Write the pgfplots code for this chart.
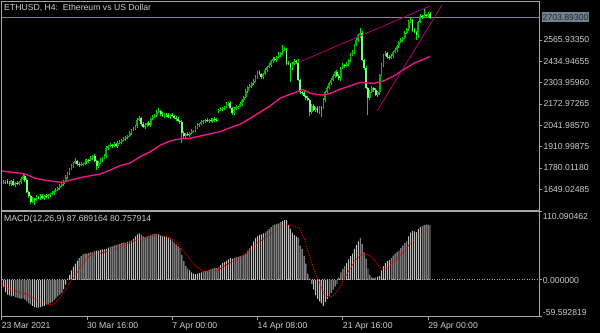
\documentclass[border=0pt]{standalone}
\usepackage{pgfplots}
\pgfplotsset{compat=1.18}
\usepackage{pgfplotstable}
\usepackage{fontspec}
\setmainfont{Liberation Sans}
\definecolor{framec}{RGB}{165,165,165}
\definecolor{txt}{RGB}{205,205,205}
\definecolor{wickc}{RGB}{0,225,0}
\definecolor{bullc}{RGB}{0,180,0}
\definecolor{bearc}{RGB}{120,255,120}
\definecolor{mac}{RGB}{235,20,140}
\definecolor{trendc}{RGB}{185,0,115}
\definecolor{bidc}{RGB}{125,135,145}
\definecolor{bidbox}{RGB}{112,128,144}
\definecolor{histc}{RGB}{192,192,192}
\definecolor{sigc}{RGB}{230,0,0}
\newcommand\lbl{\fontsize{8.7}{10}\selectfont}

\pgfplotstableread{
n o h l c
1 1690 1706 1682 1694
2 1694 1706 1681 1700
3 1700 1715 1683 1688
4 1688 1697 1672 1682
5 1682 1704 1667 1700
6 1700 1711 1669 1675
7 1675 1695 1663 1688
8 1688 1702 1678 1682
9 1682 1699 1673 1694
10 1694 1722 1683 1712
11 1712 1740 1704 1731
12 1731 1737 1693 1706
13 1706 1721 1627 1632
14 1632 1641 1598 1608
15 1608 1612 1556 1571
16 1571 1600 1565 1589
17 1589 1596 1550 1583
18 1583 1616 1579 1602
19 1602 1607 1587 1596
20 1596 1618 1585 1608
21 1608 1620 1588 1596
22 1596 1614 1583 1608
23 1608 1623 1597 1602
24 1602 1623 1592 1614
25 1614 1624 1599 1620
26 1620 1637 1614 1626
27 1626 1646 1614 1639
28 1639 1659 1635 1645
29 1645 1662 1636 1657
30 1657 1679 1646 1669
31 1669 1694 1661 1682
32 1682 1706 1669 1700
33 1700 1739 1695 1724
34 1724 1758 1714 1749
35 1749 1778 1734 1774
36 1774 1803 1768 1792
37 1792 1817 1780 1810
38 1810 1841 1806 1823
39 1823 1828 1795 1804
40 1804 1814 1787 1798
41 1798 1816 1790 1804
42 1804 1812 1791 1806
43 1806 1832 1801 1817
44 1817 1838 1807 1829
45 1829 1833 1811 1826
46 1826 1852 1820 1841
47 1841 1860 1829 1853
48 1853 1867 1819 1823
49 1823 1828 1770 1792
50 1792 1820 1781 1810
51 1810 1841 1802 1829
52 1829 1847 1816 1841
53 1841 1868 1836 1853
54 1853 1912 1843 1903
55 1903 1919 1888 1915
56 1915 1932 1909 1921
57 1921 1928 1903 1915
58 1915 1941 1911 1927
59 1927 1932 1906 1915
60 1915 1943 1904 1933
61 1933 1951 1925 1939
62 1939 1958 1926 1952
63 1952 1973 1947 1958
64 1958 1979 1948 1970
65 1970 1980 1955 1976
66 1976 2006 1970 1995
67 1995 2020 1983 2013
68 2013 2033 2009 2019
69 2019 2043 2010 2038
70 2038 2084 2027 2074
71 2074 2099 2066 2087
72 2087 2093 2037 2050
73 2050 2065 2026 2031
74 2031 2053 2021 2044
75 2044 2060 2029 2056
76 2056 2067 2038 2044
77 2044 2088 2032 2081
78 2081 2107 2077 2093
79 2093 2110 2084 2105
80 2105 2134 2094 2124
81 2124 2148 2116 2130
82 2130 2136 2098 2111
83 2111 2126 2094 2099
84 2099 2120 2089 2111
85 2111 2115 2090 2105
86 2105 2116 2087 2093
87 2093 2112 2081 2105
88 2105 2119 2095 2099
89 2099 2104 2078 2087
90 2087 2097 2070 2081
91 2081 2093 2060 2068
92 2068 2074 2049 2062
93 2062 2077 1935 1995
94 1995 2004 1966 1976
95 1976 1992 1961 1988
96 1988 1999 1976 1982
97 1982 2002 1970 1995
98 1995 2021 1991 2007
99 2007 2015 1998 2010
100 2010 2035 1999 2025
101 2025 2056 2017 2044
102 2044 2056 2031 2050
103 2050 2077 2045 2062
104 2062 2077 2052 2068
105 2068 2078 2053 2074
106 2074 2085 2062 2068
107 2068 2081 2056 2074
108 2074 2088 2064 2068
109 2068 2086 2059 2081
110 2081 2091 2063 2074
111 2074 2086 2060 2068
112 2130 2142 2117 2136
113 2136 2154 2131 2139
114 2139 2157 2129 2148
115 2148 2158 2133 2154
116 2154 2184 2148 2173
117 2173 2186 2161 2179
118 2179 2193 2144 2148
119 2148 2153 2108 2117
120 2117 2152 2106 2142
121 2142 2166 2134 2154
122 2154 2163 2141 2157
123 2157 2188 2152 2173
124 2173 2206 2163 2197
125 2197 2220 2182 2216
126 2216 2264 2210 2253
127 2253 2284 2241 2277
128 2277 2297 2273 2283
129 2283 2307 2274 2302
130 2302 2324 2291 2314
131 2314 2351 2306 2339
132 2339 2375 2326 2369
133 2369 2384 2352 2357
134 2357 2366 2329 2339
135 2339 2361 2324 2357
136 2357 2393 2351 2382
137 2382 2407 2370 2400
138 2400 2426 2396 2412
139 2412 2442 2403 2437
140 2437 2459 2426 2449
141 2449 2461 2435 2443
142 2443 2467 2430 2461
143 2461 2489 2456 2474
144 2474 2495 2464 2486
145 2486 2535 2471 2504
146 2504 2521 2498 2510
147 2510 2517 2412 2424
148 2424 2438 2414 2418
149 2418 2423 2310 2394
150 2394 2428 2383 2418
151 2418 2449 2410 2437
152 2437 2443 2418 2431
153 2431 2446 2315 2320
154 2320 2329 2236 2246
155 2246 2250 2225 2240
156 2240 2251 2216 2222
157 2222 2229 2198 2210
158 2210 2224 2193 2197
159 2197 2202 2100 2124
160 2124 2170 2113 2160
161 2160 2172 2128 2136
162 2136 2154 2123 2148
163 2148 2163 2119 2124
164 2124 2163 2114 2154
165 2154 2158 2090 2148
166 2148 2208 2142 2197
167 2197 2253 2185 2246
168 2246 2285 2242 2271
169 2271 2307 2262 2302
170 2302 2330 2291 2320
171 2320 2357 2312 2345
172 2345 2375 2332 2369
173 2369 2384 2340 2345
174 2345 2354 2322 2332
175 2332 2398 2317 2394
176 2394 2423 2388 2412
177 2412 2419 2394 2406
178 2406 2432 2402 2418
179 2418 2448 2409 2443
180 2443 2484 2432 2474
181 2474 2504 2466 2492
182 2492 2541 2479 2535
183 2535 2581 2530 2566
184 2566 2605 2556 2596
185 2596 2639 2581 2609
186 2609 2620 2437 2443
187 2443 2450 2382 2394
188 2394 2408 2267 2271
189 2271 2276 2105 2210
190 2210 2256 2199 2246
191 2246 2283 2238 2271
192 2271 2277 2246 2259
193 2259 2274 2223 2228
194 2228 2255 2218 2246
195 2246 2355 2231 2351
196 2351 2423 2345 2412
197 2412 2481 2400 2474
198 2474 2500 2470 2486
199 2486 2491 2452 2461
200 2461 2471 2444 2455
201 2455 2480 2447 2468
202 2468 2498 2455 2492
203 2492 2519 2487 2504
204 2504 2538 2494 2529
205 2529 2557 2514 2553
206 2553 2577 2547 2566
207 2566 2585 2554 2578
208 2578 2623 2574 2609
209 2609 2638 2600 2633
210 2633 2686 2622 2676
211 2676 2700 2668 2688
212 2688 2694 2614 2627
213 2627 2642 2610 2615
214 2615 2624 2566 2596
215 2596 2680 2581 2676
216 2676 2724 2670 2713
217 2713 2720 2695 2707
218 2707 2756 2703 2719
219 2719 2724 2704 2713
220 2713 2735 2702 2725
221 2725 2737 2696 2703.893
}\pricedata

\pgfplotstableread{
n m
1 -12
2 -20
3 -24
4 -25
5 -27
6 -26
7 -28
8 -29
9 -30
10 -31
11 -30
12 -32
13 -35
14 -38
15 -40
16 -42
17 -44
18 -45
19 -45
20 -44
21 -43
22 -42
23 -40
24 -39
25 -38
26 -36
27 -33
28 -30
29 -27
30 -24
31 -21
32 -15
33 -8
34 2
35 8
36 15
37 21
38 26
39 31
40 35
41 38
42 41
43 42
44 42
45 43
46 44
47 44
48 46
49 47
50 47
51 48
52 49
53 49
54 50
55 52
56 53
57 54
58 55
59 56
60 57
61 58
62 59
63 60
64 60
65 61
66 62
67 63
68 66
69 70
70 73
71 75
72 72
73 70
74 69
75 70
76 71
77 72
78 73
79 74
80 74
81 73
82 71
83 70
84 70
85 69
86 67
87 65
88 63
89 60
90 57
91 54
92 51
93 40
94 30
95 22
96 18
97 15
98 12
99 10
100 9
101 10
102 11
103 12
104 13
105 14
106 14
107 16
108 17
109 18
110 19
111 19
112 20
113 24
114 27
115 29
116 31
117 33
118 35
119 34
120 35
121 36
122 37
123 38
124 39
125 40
126 42
127 47
128 51
129 55
130 62
131 67
132 70
133 72
134 73
135 75
136 76
137 79
138 82
139 85
140 88
141 89
142 90
143 91
144 93
145 95
146 96
147 96
148 88
149 82
150 76
151 72
152 70
153 68
154 55
155 50
156 38
157 26
158 10
159 2
160 -7
161 -16
162 -25
163 -31
164 -35
165 -38
166 -42
167 -36
168 -31
169 -27
170 -21
171 -16
172 -11
173 -7
174 3
175 12
176 17
177 22
178 27
179 33
180 38
181 42
182 50
183 56
184 62
185 67
186 58
187 44
188 34
189 18
190 8
191 4
192 3
193 4
194 5
195 6
196 15
197 22
198 27
199 30
200 32
201 35
202 39
203 42
204 45
205 47
206 51
207 55
208 59
209 62
210 70
211 76
212 79
213 78
214 77
215 82
216 85
217 87
218 88
219 89
220 89
221 87.689164
}\macddata

\begin{document}
\begin{tikzpicture}
\fill[black] (0bp,0bp) rectangle (600bp,333bp);
\useasboundingbox (0bp,0bp) rectangle (600bp,333bp);

% ---------------- price panel ----------------
\begin{axis}[
  at={(1.7bp,123bp)}, anchor=south west, scale only axis,
  width=537.6bp, height=208.5bp,
  xmin=0, xmax=277.4, ymin=1521.8, ymax=2802.2,
  axis line style={draw=framec, line width=0.9bp},
  xtick=\empty,
  ytick={1649.02485,1780.0118,1910.99875,2041.9857,2172.97265,2303.9596,2434.94655,2565.9335},
  yticklabels={1649.02485,1780.01180,1910.99875,2041.98570,2172.97265,2303.95960,2434.94655,2565.93350},
  ytick pos=right, yticklabel pos=right, tick align=outside,
  major tick length=3bp, tick style={draw=framec, line width=0.8bp},
  yticklabel style={font=\lbl, text=txt, anchor=west, inner sep=0pt, xshift=1bp},
]
% bid line
\addplot[bidc, line width=0.8bp, mark=none] coordinates {(0,2703.893) (277.4,2703.893)};
% wicks: segment from low to high
\addplot[draw=wickc, line width=1bp, mark=none,
  quiver={u=0, v={\thisrow{h}-\thisrow{l}}, every arrow/.append style={-}}]
  table[x=n, y=l] {\pricedata};
% bull bodies
\addplot[draw=bullc, line width=1.8bp, mark=none,
  quiver={u=0, v={max(\thisrow{c}-\thisrow{o},0)}, every arrow/.append style={-}}]
  table[x=n, y=o] {\pricedata};
% bear bodies
\addplot[draw=bearc, line width=1.8bp, mark=none,
  quiver={u=0, v={max(\thisrow{o}-\thisrow{c},0)}, every arrow/.append style={-}}]
  table[x=n, y=c] {\pricedata};
% moving average
\addplot[mac, line width=1.4bp, line join=round, mark=none] coordinates {
(0,1761) (10,1747) (12.4,1741) (16.5,1720) (20,1710) (25,1700) (30.4,1692) (33,1696)
(37,1710) (42,1724) (51,1743) (56,1767) (61,1794) (66,1809) (71.5,1849) (76.7,1880)
(82,1921) (87,1946) (92,1958) (97,1962) (102.4,1976) (107.6,1990) (112.7,2003)
(117.9,2027) (123,2048) (128.2,2085) (133.3,2122) (138.4,2160) (143.6,2208)
(148.7,2232) (153.9,2254) (155.4,2262) (159,2240) (162.6,2231) (165.7,2228)
(169.3,2237) (174.5,2263) (179.6,2283) (184.8,2305) (188.4,2302) (192.5,2300)
(197.6,2317) (202.8,2348) (207.9,2388) (213.1,2425) (218.2,2449) (221,2464)};
% trend lines
\addplot[trendc, line width=0.8bp, mark=none] coordinates {(152.4,2424.5) (221,2774.5)};
\addplot[trendc, line width=0.8bp, mark=none] coordinates {(193.7,2129.7) (227.2,2780.7)};
\end{axis}

% ---------------- MACD panel ----------------
\begin{axis}[
  at={(1.7bp,16.3bp)}, anchor=south west, scale only axis,
  width=537.6bp, height=105.2bp,
  xmin=0, xmax=277.4, ymin=-59.592819, ymax=110.090462,
  axis line style={draw=framec, line width=0.9bp},
  xtick={0,44,88,132,176,220},
  xticklabels={23 Mar 2021,30 Mar 16:00,7 Apr 00:00,14 Apr 08:00,21 Apr 16:00,29 Apr 00:00},
  xtick pos=bottom,
  ytick={-59.592819,0,110.090462}, yticklabels={,,},
  ytick pos=right, tick align=outside,
  major tick length=3bp, tick style={draw=framec, line width=0.8bp},
  xticklabel style={font=\lbl, text=txt, anchor=north west, inner sep=0pt, yshift=-2.3bp},
]
\addplot[framec, line width=0.6bp, dash pattern=on 1bp off 1.5bp, mark=none] coordinates {(0,0) (277.4,0)};
\addplot[ybar, bar width=0.95bp, fill=histc, draw=none] table[x=n, y=m] {\macddata};
\addplot[sigc, line width=0.9bp, dash pattern=on 1.2bp off 1.2bp, mark=none] coordinates {
(0,-7) (4.3,-15) (9.4,-20.5) (13,-23) (16.2,-28.5) (19.8,-35) (23.4,-39) (24.9,-40.4)
(27.5,-38) (30.1,-28.5) (32.7,-18) (35.2,-4) (37.8,6.5) (40.4,20) (43,31) (45.6,39)
(48.1,41.5) (50.7,42.5) (55.9,47) (61,53) (66.2,60) (71.4,66) (76.5,70) (80.6,72)
(84.3,70) (87.9,66) (91,58) (93.6,47) (97.2,33) (100.8,20) (103.9,13) (107.5,14.5)
(111.1,14.5) (115.2,23) (120.4,31) (125.5,41.5) (130.7,55) (135.9,68) (141,79)
(146.2,89) (148.8,88) (152.4,85) (154,82) (156.5,63) (159.1,36) (161.7,12) (164.2,-7)
(166.8,-26) (169.4,-28.5) (172,-23) (174.6,-12) (177.1,4) (179.7,17) (182.3,31)
(184.9,39) (187.5,41.5) (190,39) (192.6,31) (195.2,20) (197.8,17) (200.4,23) (203,31)
(205.5,39) (208.1,47) (210.7,58) (213.3,66) (215.9,71) (218.4,76.5) (221,80.757914)};
\end{axis}

% ---------------- texts ----------------
\node[anchor=west, inner sep=0pt, text=txt, font=\lbl] at (4bp,325bp) {ETHUSD, H4:\ \ Ethereum vs US Dollar};
\node[anchor=west, inner sep=0pt, text=txt, font=\lbl] at (4bp,113.7bp) {MACD(12,26,9) 87.689164 80.757914};
\node[anchor=west, inner sep=0pt, text=txt, font=\lbl] at (542.7bp,116bp) {110.090462};
\node[anchor=west, inner sep=0pt, text=txt, font=\lbl] at (542.7bp,52.3bp) {0.000000};
\node[anchor=west, inner sep=0pt, text=txt, font=\lbl] at (542.7bp,20.3bp) {-59.592819};
\node[anchor=west, fill=bidbox, inner xsep=0.8bp, inner ysep=0pt, minimum height=9.4bp,
  text=black!85, font=\lbl] at (541.7bp,315.8bp) {2703.89300};
\end{tikzpicture}
\end{document}
